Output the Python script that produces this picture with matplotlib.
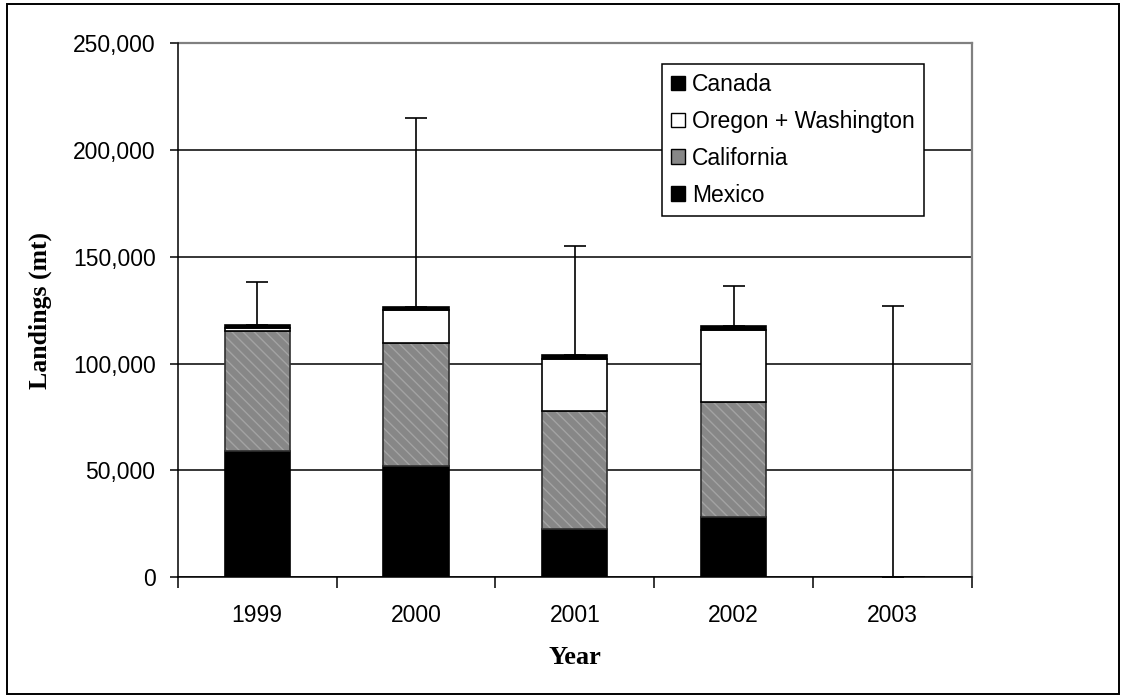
import matplotlib.pyplot as plt
from matplotlib.patches import Rectangle, Patch
import numpy as np

# landings by region (mt)
years = ['1999', '2000', '2001', '2002', '2003']
mexico = [59000, 52000, 22500, 28000, 0]
california = [56200, 57500, 55200, 54000, 0]
oregon_wa = [1600, 15500, 24300, 33600, 0]
canada = [1200, 1400, 2000, 1900, 0]
upper_bound = [138200, 215000, 155000, 136200, 127000]

plt.rcParams['font.family'] = ['Liberation Sans', 'DejaVu Sans']

fig = plt.figure(figsize=(11.25, 6.98), dpi=100)
ax = fig.add_axes([0.158, 0.173, 0.706, 0.765])

x = np.arange(len(years))
w = 0.41
mex = np.array(mexico)
cal = np.array(california)
orw = np.array(oregon_wa)
can = np.array(canada)
tot = mex + cal + orw + can

ax.bar(x, mex, w, color='black', edgecolor='black', lw=1.2, zorder=3)
# california: grey with light diagonal stripes
ax.bar(x, cal, w, bottom=mex, color='#878787', edgecolor='#a3a3a3', lw=0,
       hatch='\\\\\\', zorder=3)
ax.bar(x, cal, w, bottom=mex, fill=False, edgecolor='#303030', lw=1.2, zorder=3)
ax.bar(x, orw, w, bottom=mex + cal, color='white', edgecolor='black', lw=1.2, zorder=3)
ax.bar(x, can, w, bottom=mex + cal + orw, color='black', edgecolor='black', lw=1.2, zorder=3)

err = np.array(upper_bound) - tot
ax.errorbar(x, tot, yerr=[np.zeros(len(x)), err], fmt='none', ecolor='black',
            elinewidth=1.2, capsize=8, capthick=1.2, zorder=4)

fs = 16.5
ax.set_xlim(-0.5, 4.5)
ax.set_ylim(0, 250000)
ax.set_yticks(np.arange(0, 250001, 50000))
ax.set_yticklabels([f'{v:,}' for v in range(0, 250001, 50000)], fontsize=fs)
ax.yaxis.grid(True, color='black', lw=1.1, zorder=0)
ax.set_axisbelow(True)

ax.set_xticks(np.arange(-0.5, 5, 1))
ax.set_xticklabels([''] * 6)
ax.set_xticks(x, minor=True)
ax.set_xticklabels(years, minor=True, fontsize=fs)
ax.tick_params(axis='x', which='major', direction='out', length=8, width=1.1)
ax.tick_params(axis='x', which='minor', length=0, pad=19)
ax.tick_params(axis='y', direction='out', length=6, width=1.1, pad=10)

for s in ['top', 'right']:
    ax.spines[s].set_color('#808080')
    ax.spines[s].set_linewidth(1.6)
    ax.spines[s].set_zorder(2)
for s in ['left', 'bottom']:
    ax.spines[s].set_linewidth(1.1)

ax.set_ylabel('Landings (mt)', family='Liberation Serif', fontweight='bold',
              fontsize=18.5, labelpad=15)
ax.set_xlabel('Year', family='Liberation Serif', fontweight='bold',
              fontsize=19, labelpad=14)

handles = [
    Patch(facecolor='black', edgecolor='black', label='Canada'),
    Patch(facecolor='white', edgecolor='black', label='Oregon + Washington'),
    Patch(facecolor='#878787', edgecolor='black', label='California'),
    Patch(facecolor='black', edgecolor='black', label='Mexico'),
]
leg = ax.legend(handles=handles, loc='upper left', bbox_to_anchor=(0.610, 0.961),
                fontsize=fs, frameon=True, fancybox=False, framealpha=1,
                edgecolor='black', handlelength=0.6, handleheight=0.6,
                handletextpad=0.3, labelspacing=0.6, borderpad=0.4,
                borderaxespad=0)
leg.get_frame().set_linewidth(1.1)
leg.set_zorder(5)

# outer border around the whole chart
fig.add_artist(Rectangle((0.006, 0.006), 0.989, 0.988, transform=fig.transFigure,
                         fill=False, edgecolor='black', lw=1.4))

fig.savefig('out.png', dpi=100)
